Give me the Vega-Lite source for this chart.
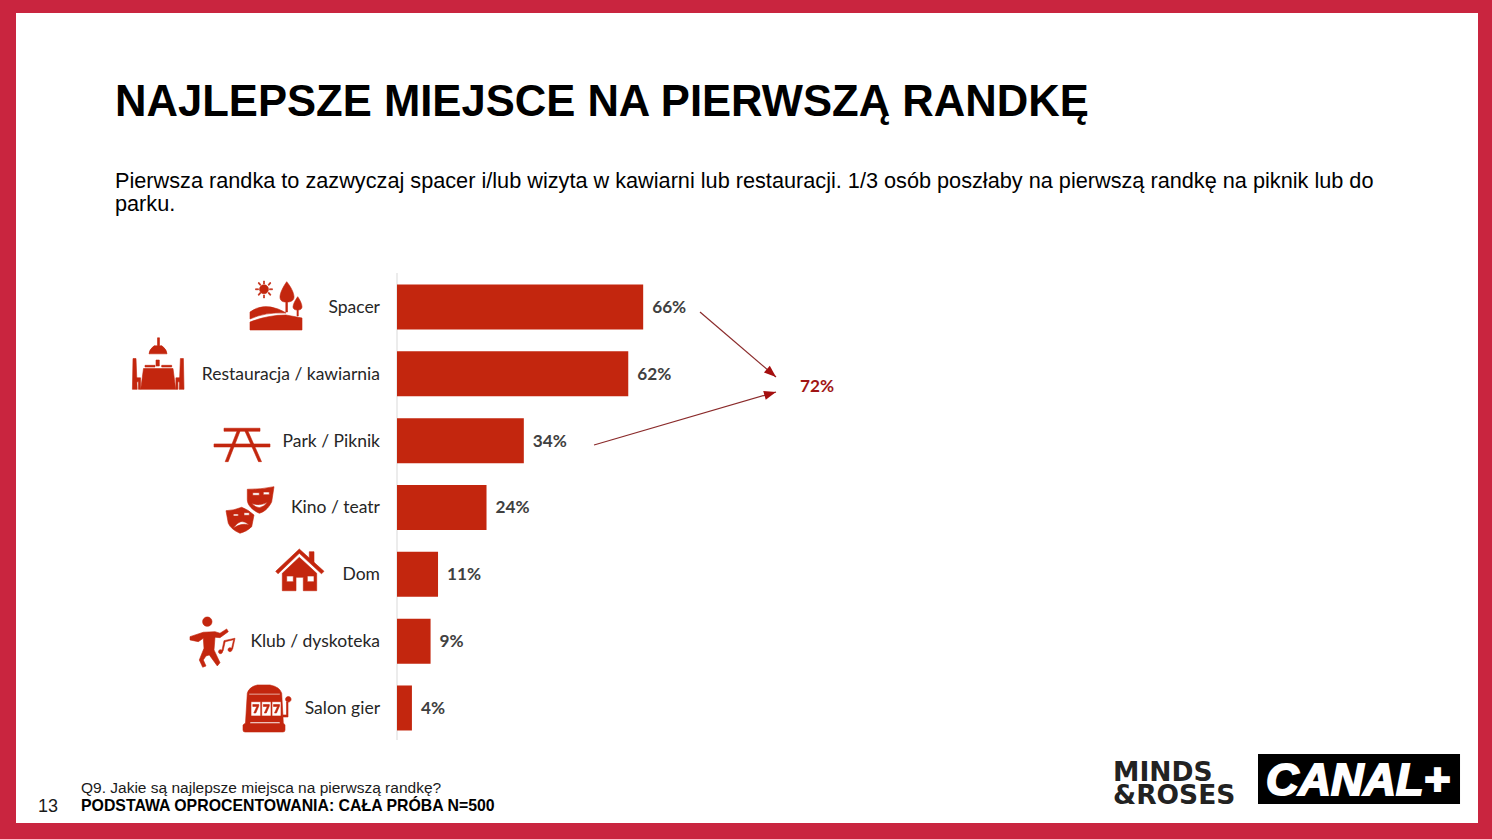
{
  "$schema": "https://vega.github.io/schema/vega-lite/v6.json",
  "width": 1462,
  "height": 810,
  "autosize": {"type": "none"},
  "padding": {"left": 16, "top": 13, "right": 14, "bottom": 16},
  "background": "#c9253f",
  "title": {
    "text": "NAJLEPSZE MIEJSCE NA PIERWSZĄ RANDKĘ",
    "subtitle": [
      "Pierwsza randka to zazwyczaj spacer i/lub wizyta w kawiarni lub restauracji. 1/3 osób poszłaby na pierwszą randkę na piknik lub do",
      "parku."
    ],
    "anchor": "start",
    "frame": "group",
    "orient": "top",
    "dx": 99,
    "offset": -204,
    "font": "Liberation Sans",
    "fontSize": 43.6,
    "fontWeight": "bold",
    "color": "#000000",
    "subtitleFont": "Liberation Sans",
    "subtitleFontSize": 21.7,
    "subtitleColor": "#000000",
    "subtitleLineHeight": 23.5,
    "subtitlePadding": 45
  },
  "data": {
    "values": [
      {"category": "Spacer", "share": 0.66, "rank": 1},
      {"category": "Restauracja / kawiarnia", "share": 0.62, "rank": 2},
      {"category": "Park / Piknik", "share": 0.34, "rank": 3},
      {"category": "Kino / teatr", "share": 0.24, "rank": 4},
      {"category": "Dom", "share": 0.11, "rank": 5},
      {"category": "Klub / dyskoteka", "share": 0.09, "rank": 6},
      {"category": "Salon gier", "share": 0.04, "rank": 7}
    ]
  },
  "encoding": {
    "x": {"field": "share", "type": "quantitative", "axis": null, "scale": {"domain": [-1.02145, 2.8981], "nice": false, "zero": false, "padding": 0}},
    "y": {"field": "rank", "type": "quantitative", "axis": null, "scale": {"domain": [-3.399, 8.721], "reverse": true, "nice": false, "zero": false, "padding": 0}}
  },
  "layer": [
    {
      "data": {"values": [{"share": 0, "rank": 0.491, "rankEnd": 7.479}]},
      "mark": {"type": "rule", "color": "#d9d9d9", "strokeWidth": 1},
      "encoding": {"y2": {"field": "rankEnd"}}
    },
    {
      "mark": {"type": "bar", "orient": "horizontal", "size": 45, "color": "#c3260e"}
    },
    {
      "mark": {"type": "text", "align": "right", "baseline": "middle", "dx": -17, "dy": 1, "font": "Lato", "fontSize": 17.5, "color": "#262626"},
      "encoding": {"x": {"datum": 0}, "text": {"field": "category"}}
    },
    {
      "mark": {"type": "text", "align": "left", "baseline": "middle", "dx": 9, "dy": 1, "font": "Lato", "fontSize": 17.2, "fontWeight": "bold", "color": "#404040"},
      "encoding": {"text": {"field": "share", "type": "quantitative", "format": ".0%"}}
    },
    {
      "mark": {"type": "point", "filled": true, "size": 4, "opacity": 1, "color": "#c3260e", "stroke": "#c3260e", "strokeWidth": 0.6},
      "encoding": {
        "x": {"datum": 0},
        "shape": {
          "field": "category",
          "type": "nominal",
          "legend": null,
          "scale": {
            "domain": ["Spacer", "Restauracja / kawiarnia", "Park / Piknik", "Kino / teatr", "Dom", "Klub / dyskoteka", "Salon gier"],
            "range": [
              "M-147 5Q-135 -4 -119 2Q-114 4 -111 6Q-132 5 -147 12ZM-147 15Q-129 8 -111 8L-95 11L-95 23L-147 23ZM-110.3 -25.3C-106 -20 -103 -14 -103 -10C-103 -6 -107 -5 -109.5 -5L-109.5 5L-111.2 5L-111.2 -5C-114 -5 -117 -6 -117 -10C-117 -14 -114 -20 -110.3 -25.3ZM-99.3 -10.3C-97 -7 -95 -3 -95 0C-95 2 -97 3 -98.7 3L-98.7 9L-100 9L-100 3C-102 3 -104 2 -104 0C-104 -3 -101.5 -7 -99.3 -10.3ZM-137.5 -17.7A4.5 4.5 0 1 1 -128.5 -17.7A4.5 4.5 0 1 1 -137.5 -17.7ZM-133.5 -26H-132.5V-23H-133.5ZM-133.5 -12H-132.5V-9H-133.5ZM-141.5 -18.2H-138.5V-17.2H-141.5ZM-127.5 -18.2H-124.5V-17.2H-127.5ZM-139 -24L-138 -24.7L-136 -22.2L-137 -21.5ZM-129 -14L-128 -14.7L-126 -12.2L-127 -11.5ZM-127 -24.7L-126 -24L-128 -21.5L-129 -22.2ZM-137 -14.7L-136 -14L-138 -11.5L-139 -12.2Z",
              "M-239.5 -36L-237.5 -36L-237.5 -28L-235 -28Q-230 -24 -230 -20L-248 -20Q-248 -24 -243 -28L-239.5 -28ZM-253.5 -5.3L-224 -5.3L-221.3 15.5L-256.3 15.5ZM-252 -8.5H-242V-6.8H-252ZM-235.3 -8.5H-225.3V-6.8H-235.3ZM-241 -13.8H-237.7V-7.8H-241ZM-264 -15.3L-261 -15.3L-259.8 15.5L-264.6 15.5ZM-261 4L-256.5 4L-256.5 15.5L-258.5 15.5L-258.5 8L-261 8ZM-216.6 -15.3L-213.6 -15.3L-213 15.5L-217.8 15.5ZM-221.1 4L-216.6 4L-216.6 8L-219.1 8L-219.1 15.5L-221.1 15.5Z",
              "M-173 -12.4H-137V-9.4H-173ZM-183 3.3H-127V6.3H-183ZM-160 -9.4L-157 -9.4L-168.8 21L-171.8 21ZM-152 -9.4L-149 -9.4L-135.5 21L-138.5 21Z",
              "M-149.7 -18.2Q-136 -18 -123 -20.8L-125.3 -5.8C-127 -2 -131 4 -137.7 5.8C-144 3 -149.7 -2 -149.7 -8ZM-144.3 -14.8V-12.2H-137.7V-14.8ZM-133.7 -15.5V-12.8H-127.7V-15.5ZM-145.3 -4.2Q-137.7 5 -129.7 -5.2Q-137.7 -1 -145.3 -4.2ZM-171 3.2Q-163 3 -155.3 -0.2Q-149 2 -143 7.5L-145.3 19.2Q-150 24 -157 25.8Q-166 22 -168.7 15.8ZM-163.7 6.5V8.5H-158.7V6.5ZM-153 5.2V7.8H-147.7V5.2ZM-147.7 17.5Q-156.3 9 -163.7 20.8Q-156 15 -147.7 17.5Z",
              "M-97.7 -25.3L-73 -3L-75.5 -0.5L-97.7 -21L-119 -0.5L-121.3 -3ZM-87.7 -22.6H-83V-11L-87.7 -16ZM-97.7 -17L-80.3 -1L-80.3 16.4L-93.7 16.4L-93.7 3L-101 3L-101 16.4L-114.7 16.4L-114.7 -1ZM-110.3 1.7V7.4H-103.7V1.7ZM-89.7 1.7V7.4H-83V1.7Z",
              "M-194.4 -19.5A4.7 4.7 0 1 1 -185 -19.5A4.7 4.7 0 1 1 -194.4 -19.5ZM-207 -4.5L-193.7 -8.9L-182 -9.5L-177 -7.9L-170.3 -12.2L-168.7 -9.5L-177 -3.5L-182 -3.9L-183 8.8L-177 21.5L-179.7 24.8L-187.7 13.8L-191 14.8L-193.7 18.8L-191 24.8L-194.3 26.1L-197.7 18.8L-193 7.1L-193.7 -2.9L-198.7 0.5L-207 -1.2ZM-173 -0.5L-162 -2.9L-164.4 8L-165.6 8L-163.4 -1.4L-171.8 0.5L-174 10L-175.2 10ZM-178.5 10.5A2 2 0 1 1 -174.5 10.5A2 2 0 1 1 -178.5 10.5ZM-169 8.5A2 2 0 1 1 -165 8.5A2 2 0 1 1 -169 8.5Z",
              "M-139.7 -23L-127 -23Q-117 -21 -115.3 -14.7L-113.7 15L-112 17L-112 22Q-112 24 -114 24L-152 24Q-154 24 -154 22L-154 17L-151.5 15L-149.7 -14.7Q-148 -21 -139.7 -23ZM-148 -14.5V-13.3H-117V-14.5ZM-146 -6.3V8H-136.3V-6.3ZM-135.3 -6.3V8H-126V-6.3ZM-125 -6.3V8H-116V-6.3ZM-144.2 -3.5H-138.2V-2L-141.2 5H-143.2L-140.2 -1.5H-144.2ZM-133.7 -3.5H-127.7V-2L-130.7 5H-132.7L-129.7 -1.5H-133.7ZM-123.5 -3.5H-117.5V-2L-120.5 5H-122.5L-119.5 -1.5H-123.5ZM-147 14V15.5H-117V14ZM-110.5 -6H-109V9H-114V7H-110.5ZM-111.5 -8.7A2.8 2.8 0 1 1 -105.9 -8.7A2.8 2.8 0 1 1 -111.5 -8.7Z"
            ]
          }
        }
      }
    },
    {
      "data": {"values": [
        {"share": 0.8123, "rank": 1.0748, "shareEnd": 1.0161, "rankEnd": 2.0474},
        {"share": 0.5282, "rank": 3.0649, "shareEnd": 1.0161, "rankEnd": 2.2719}
      ]},
      "mark": {"type": "rule", "color": "#8a2a2a", "strokeWidth": 1.2},
      "encoding": {"x2": {"field": "shareEnd"}, "y2": {"field": "rankEnd"}}
    },
    {
      "data": {"values": [{"share": 1.0161, "rank": 2.0474}]},
      "mark": {"type": "point", "filled": true, "size": 4, "opacity": 1, "color": "#a50f0f", "strokeWidth": 0, "shape": "M0 0L4.5 12L-4.5 12Z", "angle": 130.5}
    },
    {
      "data": {"values": [{"share": 1.0161, "rank": 2.2719}]},
      "mark": {"type": "point", "filled": true, "size": 4, "opacity": 1, "color": "#a50f0f", "strokeWidth": 0, "shape": "M0 0L4.5 12L-4.5 12Z", "angle": 73.8}
    },
    {
      "data": {"values": [{"note": "72%", "share": 1.0804, "rank": 2.197}]},
      "mark": {"type": "text", "align": "left", "baseline": "middle", "font": "Lato", "fontSize": 17.2, "fontWeight": "bold", "color": "#a01515"},
      "encoding": {"text": {"field": "note"}}
    },
    {
      "data": {"values": [{"note": "Q9. Jakie są najlepsze miejsca na pierwszą randkę?", "share": -0.8472, "rank": 8.272}]},
      "mark": {"type": "text", "align": "left", "baseline": "alphabetic", "font": "Liberation Sans", "fontSize": 15.5, "color": "#1a1a1a"},
      "encoding": {"text": {"field": "note"}}
    },
    {
      "data": {"values": [{"note": "PODSTAWA OPROCENTOWANIA: CAŁA PRÓBA N=500", "share": -0.8472, "rank": 8.542}]},
      "mark": {"type": "text", "align": "left", "baseline": "alphabetic", "font": "Liberation Sans", "fontSize": 15.85, "fontWeight": "bold", "color": "#000000"},
      "encoding": {"text": {"field": "note"}}
    },
    {
      "data": {"values": [{"note": "13", "share": -0.9625, "rank": 8.554}]},
      "mark": {"type": "text", "align": "left", "baseline": "alphabetic", "font": "Liberation Sans", "fontSize": 18, "color": "#1a1a1a"},
      "encoding": {"text": {"field": "note"}}
    },
    {
      "data": {"values": [{"note": "MINDS\n&ROSES", "share": 1.9196, "rank": 8.093}]},
      "mark": {"type": "text", "align": "left", "baseline": "alphabetic", "lineBreak": "\n", "lineHeight": 23, "font": "DejaVu Sans", "fontSize": 26.5, "fontWeight": "bold", "color": "#222222"},
      "encoding": {"text": {"field": "note"}}
    },
    {
      "data": {"values": [{"share": 2.3083, "shareEnd": 2.8499, "rank": 7.689, "rankEnd": 8.437}]},
      "mark": {"type": "rect", "color": "#000000"},
      "encoding": {"x2": {"field": "shareEnd"}, "y2": {"field": "rankEnd"}}
    },
    {
      "data": {"values": [{"note": "CANAL+", "share": 2.3298, "rank": 8.302}]},
      "mark": {"type": "text", "align": "left", "baseline": "alphabetic", "font": "Liberation Sans", "fontSize": 45, "fontWeight": "bold", "fontStyle": "italic", "color": "#ffffff", "stroke": "#ffffff", "strokeWidth": 2},
      "encoding": {"text": {"field": "note"}}
    }
  ],
  "config": {"view": {"fill": "#ffffff", "stroke": null}}
}
